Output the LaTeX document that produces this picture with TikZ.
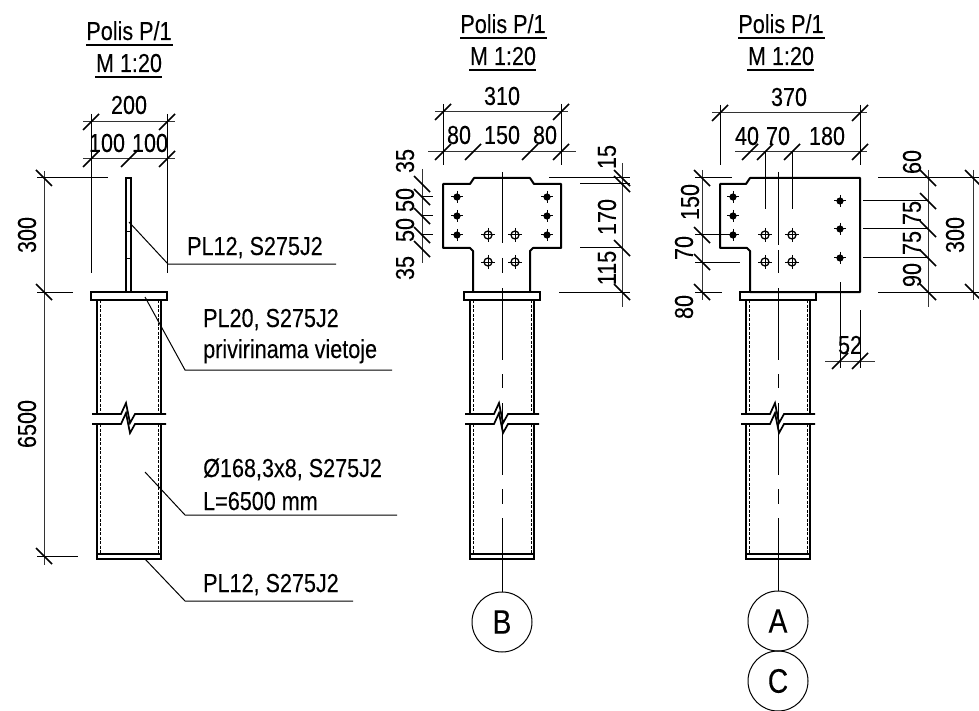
\documentclass[tikz,border=0pt]{standalone}
\usepackage{fontspec}
\setmainfont{Liberation Sans}[FakeStretch=0.83,FakeBold=0.12]
\tikzset{
  thinl/.style={line width=1pt,black},
  dimln/.style={line width=1pt,black!80},
  thick2/.style={line width=2pt,black},
  tickm/.style={line width=1.6pt,black},
  lbl/.style={inner sep=0pt,font=\fontsize{26}{26}\selectfont},
  bubble/.style={circle,draw,line width=1pt,minimum size=60pt,inner sep=0pt,font=\fontsize{34}{34}\selectfont},
}
\newcommand{\tkF}[2]{\draw[tickm] (#1-8,#2+8) -- (#1+8,#2-8);}
\newcommand{\tkB}[2]{\draw[tickm] (#1-8,#2-8) -- (#1+8,#2+8);}
\newcommand{\holeS}[2]{\fill (#1,#2) circle (3.6);\draw[thinl] (#1-6,#2) -- (#1+6,#2) (#1,#2-6) -- (#1,#2+6);}
\newcommand{\holeO}[2]{\draw[line width=1.3pt] (#1,#2) circle (4);\draw[thinl] (#1-7,#2) -- (#1+7,#2) (#1,#2-7) -- (#1,#2+7);}
\begin{document}
\begin{tikzpicture}[x=1pt,y=-1pt]
\useasboundingbox (0,0) rectangle (979,711);
% tubes, common to the three views
\foreach \c in {129,502,778}{
  \draw[thick2] (\c-38,292) rectangle (\c+38,300);
  \draw[thick2] (\c-32,300) -- (\c-32,414) (\c+32,300) -- (\c+32,414);
  \draw[thick2] (\c-32,424) -- (\c-32,559) (\c+32,424) -- (\c+32,559);
  \draw[line width=0.8pt,dash pattern=on 3pt off 1.5pt] (\c-29,300) -- (\c-29,414) (\c+29,300) -- (\c+29,414)
     (\c-29,424) -- (\c-29,553) (\c+29,424) -- (\c+29,553);
  \draw[thick2] (\c-32,553.5) rectangle (\c+32,559);
  \draw[line width=1.7pt] (\c-37,414) -- (\c-8,414) -- (\c-3,403) -- (\c+1,423) -- (\c+6,414) -- (\c+37,414);
  \draw[line width=1.7pt] (\c-37,424) -- (\c-8,424) -- (\c-3,413) -- (\c+1,433) -- (\c+6,424) -- (\c+37,424);
}
% titles
\foreach \n/\c/\a/\b in {l/129/40/72,m/503/33/65,r/781/33/65}{
  \node[lbl,anchor=base] (t\n1) at (\c,\a) {Polis P/1};
  \node[lbl,anchor=base] (t\n2) at (\c,\b) {M 1:20};
  \draw[line width=1.3pt] (\c-43,\a+5) -- (\c+44,\a+5);
  \draw[line width=1.3pt] (\c-34,\b+5) -- (\c+33,\b+5);
}
% ---- left view
\draw[thick2] (126,178) rectangle (131,292);
\draw[thinl] (126,232) -- (131,232) (126,259) -- (131,259);
\node[lbl] (d200) at (129,105) {200};
\node[lbl] (d100a) at (107,143) {100};
\node[lbl] (d100b) at (150,143) {100};
\draw[dimln] (83,122) -- (175,122) (83,159) -- (175,159);
\draw[thinl] (91,114) -- (91,273) (167,114) -- (167,273);
\tkF{91}{122}\tkF{167}{122}\tkF{91}{159}\tkF{129}{159}\tkF{167}{159}
\draw[dimln] (44,171) -- (44,565);
\draw[thinl] (37,178) -- (108,178) (37,292) -- (73,292) (37,556) -- (78,556);
\tkB{44}{178}\tkB{44}{292}\tkB{44}{556}
\node[lbl,rotate=90] (d300) at (27,235) {300};
\node[lbl,rotate=90] (d6500) at (27,424) {6500};
\node[lbl,anchor=base west] (n1) at (187,255) {PL12, S275J2};
\node[lbl,anchor=base west] (n2) at (203,327) {PL20, S275J2};
\node[lbl,anchor=base west] (n3) at (203,358) {privirinama vietoje};
\node[lbl,anchor=base west] (n4) at (203,477) {Ø168,3x8, S275J2};
\node[lbl,anchor=base west] (n5) at (203,510) {L=6500 mm};
\node[lbl,anchor=base west] (n6) at (203,592) {PL12, S275J2};
\draw[thinl] (129,222) -- (168,264) -- (336,264);
\draw[thinl] (145,297) -- (185,370) -- (392,370);
\draw[thinl] (145,472) -- (185,515) -- (397,515);
\draw[thinl] (145,559) -- (185,601) -- (353,601);
% ---- middle view
\draw[thick2,line join=round] (473,292) -- (473,251) -- (470,248) -- (443,248) -- (443,184) -- (470,184) -- (474,178) -- (530,178) -- (534,184) -- (561,184) -- (561,248) -- (533,248) -- (530,251) -- (530,292);
\foreach \x in {457,547}\foreach \y in {197,216,235}{\holeS{\x}{\y}}
\foreach \x in {488,515}\foreach \y in {235,262}{\holeO{\x}{\y}}
\draw[thinl] (502,172) -- (502,243) (502,258) -- (502,273) (502,288) -- (502,360) (502,374) -- (502,388) (502,403) -- (502,475) (502,489) -- (502,504);
\node[bubble] (B) at (502,622) {B};
\draw[thinl] (502,518) -- (B.north);
\node[lbl] (d310) at (502,96) {310};
\node[lbl] (d80a) at (459,135) {80};
\node[lbl] (d150) at (502,135) {150};
\node[lbl] (d80b) at (545,135) {80};
\draw[dimln] (435,112) -- (568,112) (428,152) -- (576,152);
\draw[thinl] (443,104) -- (443,165) (561,104) -- (561,165);
\tkF{443}{112}\tkF{561}{112}\tkF{443}{152}\tkF{473}{152}\tkF{530}{152}\tkF{561}{152}
\draw[dimln] (422,169) -- (422,263);
\draw[thinl] (422,197) -- (433,197) (422,216) -- (433,216) (422,235) -- (433,235);
\tkB{422}{184}\tkB{422}{197}\tkB{422}{216}\tkB{422}{235}\tkB{422}{249}
\node[lbl,rotate=90] (m35a) at (405,161) {35};
\node[lbl,rotate=90] (m50a) at (405,200) {50};
\node[lbl,rotate=90] (m50b) at (405,230) {50};
\node[lbl,rotate=90] (m35b) at (405,268) {35};
\draw[dimln] (622,163) -- (622,307);
\draw[thinl] (549,178) -- (630,178) (580,184) -- (630,184) (580,248) -- (622,248) (559,292) -- (630,292);
\tkB{622}{178}\tkB{622}{184}\tkB{622}{248}\tkB{622}{292}
\node[lbl,rotate=90] (m15) at (607,157) {15};
\node[lbl,rotate=90] (m170) at (607,217) {170};
\node[lbl,rotate=90] (m115) at (607,268) {115};
% ---- right view
\draw[thick2,line join=round] (720,184) -- (746,184) -- (750,178) -- (860,178) -- (860,292) -- (750,292) -- (750,251) -- (747,248) -- (720,248) -- cycle;
\foreach \y in {197,216,235}{\holeS{733}{\y}}
\foreach \y in {201,229,258}{\holeS{840}{\y}}
\foreach \x in {765,792}\foreach \y in {235,262}{\holeO{\x}{\y}}
\draw[thinl] (778,172) -- (778,245) (778,250) -- (778,273) (778,288) -- (778,360) (778,374) -- (778,388) (778,403) -- (778,475) (778,489) -- (778,504);
\node[bubble] (A) at (778,621) {A};
\node[bubble] (C) at (778,681) {C};
\draw[thinl] (778,518) -- (A.north);
\node[lbl] (r370) at (789,97) {370};
\node[lbl] (r40) at (747,136) {40};
\node[lbl] (r70) at (778,136) {70};
\node[lbl] (r180) at (827,136) {180};
\draw[dimln] (712,113) -- (867,113) (735,152) -- (867,152);
\draw[thinl] (720,105) -- (720,165) (860,105) -- (860,165) (765,152) -- (765,209) (792,152) -- (792,209);
\tkF{720}{113}\tkF{860}{113}\tkF{750}{152}\tkF{765}{152}\tkF{792}{152}\tkF{860}{152}
\draw[dimln] (702,170) -- (702,300);
\draw[thinl] (695,178) -- (732,178) (695,235) -- (733,235) (695,262) -- (740,262) (695,292) -- (722,292);
\tkB{702}{178}\tkB{702}{235}\tkB{702}{262}\tkB{702}{292}
\node[lbl,rotate=90] (r150) at (690,202) {150};
\node[lbl,rotate=90] (r70b) at (684,248) {70};
\node[lbl,rotate=90] (r80) at (684,307) {80};
\draw[dimln] (928,170) -- (928,307) (973,170) -- (973,300);
\draw[thinl] (878,178) -- (979,178) (863,201) -- (928,201) (863,229) -- (928,229) (863,258) -- (928,258) (878,292) -- (979,292);
\tkB{928}{178}\tkB{928}{201}\tkB{928}{229}\tkB{928}{258}\tkB{928}{292}\tkB{973}{178}\tkB{973}{292}
\node[lbl,rotate=90] (r60) at (912,162) {60};
\node[lbl,rotate=90] (r75a) at (912,213) {75};
\node[lbl,rotate=90] (r75b) at (912,243) {75};
\node[lbl,rotate=90] (r90) at (912,275) {90};
\node[lbl,rotate=90] (r300) at (955,235) {300};
\draw[thinl] (840,282) -- (840,368) (860,310) -- (860,368);
\draw[dimln] (825,361) -- (875,361);
\tkF{840}{361}\tkF{860}{361}
\node[lbl] (r52) at (850,345) {52};
\end{tikzpicture}
\end{document}
